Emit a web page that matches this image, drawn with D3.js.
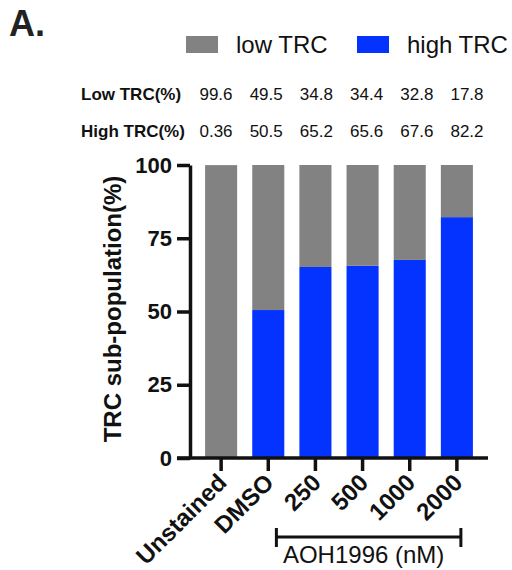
<!DOCTYPE html>
<html>
<head>
<meta charset="utf-8">
<script src="https://cdn.jsdelivr.net/npm/d3@7"></script>
<style>
  body { margin: 0; background: #fff; }
  text { font-family: "Liberation Sans", Arial, Helvetica, sans-serif; }
</style>
</head>
<body>
<div id="chart"></div>
<script>
// groups on the x axis
var groups = ["Unstained", "DMSO", "250", "500", "1000", "2000"]
// percentages per group
var highTRC = [0.36, 50.5, 65.2, 65.6, 67.6, 82.2]
var lowTRC = [99.6, 49.5, 34.8, 34.4, 32.8, 17.8]
var highLabels = ["0.36", "50.5", "65.2", "65.6", "67.6", "82.2"]
var lowLabels = ["99.6", "49.5", "34.8", "34.4", "32.8", "17.8"]
var yTicks = [0, 25, 50, 75, 100]

var width = 512, height = 570
var gray = "#828282", blue = "#0433ff"

var svg = d3.select("#chart")
    .append("svg")
    .attr("width", width)
    .attr("height", height)

// scales
var x = d3.scaleBand()
    .domain(groups)
    .range([190, 488])
    .paddingInner(0.32)
    .paddingOuter(0.32)

var y = d3.scaleLinear()
    .domain([0, 100])
    .range([458, 165])
    .clamp(true)

// stacked bars: high at bottom, low on top
var rows = groups.map(function (g, i) {
    return { group: g, high: highTRC[i], low: lowTRC[i] }
})
var series = d3.stack().keys(["high", "low"])(rows)
var colors = { high: blue, low: gray }

svg.append("g")
    .selectAll("g")
    .data(series)
    .enter()
    .append("g")
    .attr("fill", function (d) { return colors[d.key] })
    .selectAll("rect")
    .data(function (d) { return d })
    .enter()
    .append("rect")
    .attr("x", function (d) { return x(d.data.group) })
    .attr("y", function (d) { return y(d[1]) })
    .attr("width", x.bandwidth())
    .attr("height", function (d) { return y(d[0]) - y(d[1]) })

// y axis
var yAxis = svg.append("g")
    .attr("transform", "translate(190,0)")
    .call(d3.axisLeft(y).tickValues(yTicks).tickSize(13).tickPadding(5).tickSizeOuter(0))
yAxis.select(".domain").attr("stroke", "#111").attr("stroke-width", 3.5)
yAxis.selectAll(".tick line").attr("stroke", "#111").attr("stroke-width", 3.5)
yAxis.selectAll(".tick text")
    .attr("fill", "#111")
    .style("font-size", "22px")
    .style("font-weight", "bold")
    .style("font-family", "'Liberation Sans', Arial, sans-serif")

// x axis line (extends left to match y ticks)
svg.append("line")
    .attr("x1", 177).attr("x2", 488)
    .attr("y1", y(0)).attr("y2", y(0))
    .attr("stroke", "#111").attr("stroke-width", 3.5)

var xAxis = svg.append("g")
    .attr("transform", "translate(0," + y(0) + ")")
    .call(d3.axisBottom(x).tickSize(13).tickSizeOuter(0))
xAxis.select(".domain").remove()
xAxis.selectAll(".tick line").attr("stroke", "#111").attr("stroke-width", 3.5)
xAxis.selectAll(".tick text")
    .attr("fill", "#111")
    .attr("text-anchor", "end")
    .attr("dy", null)
    .attr("y", null)
    .attr("transform", "translate(7,26) rotate(-45)")
    .style("font-size", "24px")
    .style("font-weight", "bold")
    .style("font-family", "'Liberation Sans', Arial, sans-serif")

// y label
svg.append("text")
    .attr("transform", "translate(121,309) rotate(-90)")
    .attr("text-anchor", "middle")
    .style("font-size", "24px")
    .style("font-weight", "bold")
    .attr("fill", "#111")
    .text("TRC sub-population(%)")

// bracket under the drug doses
var bx1 = x("250") - 23, bx2 = x("2000") + x.bandwidth() / 2 + 4
var br = svg.append("g").attr("stroke", "#111").attr("stroke-width", 3)
br.append("line").attr("x1", bx1).attr("x2", bx2).attr("y1", 537).attr("y2", 537)
br.append("line").attr("x1", bx1).attr("x2", bx1).attr("y1", 528).attr("y2", 547)
br.append("line").attr("x1", bx2).attr("x2", bx2).attr("y1", 528).attr("y2", 547)
svg.append("text")
    .attr("x", (bx1 + bx2) / 2 - 5)
    .attr("y", 563)
    .attr("text-anchor", "middle")
    .style("font-size", "24px")
    .attr("fill", "#111")
    .text("AOH1996 (nM)")

// panel letter
svg.append("text")
    .attr("x", 9).attr("y", 36)
    .style("font-size", "36px")
    .style("font-weight", "bold")
    .attr("fill", "#222")
    .text("A.")

// legend
var legend = [{ name: "low TRC", color: gray, x: 186 }, { name: "high TRC", color: blue, x: 357 }]
var lg = svg.append("g").selectAll("g").data(legend).enter().append("g")
lg.append("rect")
    .attr("x", function (d) { return d.x })
    .attr("y", 36).attr("width", 32).attr("height", 17)
    .attr("fill", function (d) { return d.color })
lg.append("text")
    .attr("x", function (d) { return d.x + 50 })
    .attr("y", 53)
    .style("font-size", "24px")
    .attr("fill", "#111")
    .text(function (d) { return d.name })

// value table above the plot
var col = d3.scalePoint().domain(groups).range([216, 467])
var table = [
    { label: "Low TRC(%)", vals: lowLabels, y: 100 },
    { label: "High TRC(%)", vals: highLabels, y: 137 }
]
table.forEach(function (row) {
    svg.append("text")
        .attr("x", 81).attr("y", row.y)
        .style("font-size", "17px")
        .style("font-weight", "bold")
        .attr("fill", "#111")
        .text(row.label)
    svg.append("g").selectAll("text")
        .data(row.vals)
        .enter()
        .append("text")
        .attr("x", function (d, i) { return col(groups[i]) })
        .attr("y", row.y)
        .attr("text-anchor", "middle")
        .style("font-size", "17px")
        .attr("fill", "#111")
        .text(function (d) { return d })
})
</script>
</body>
</html>
